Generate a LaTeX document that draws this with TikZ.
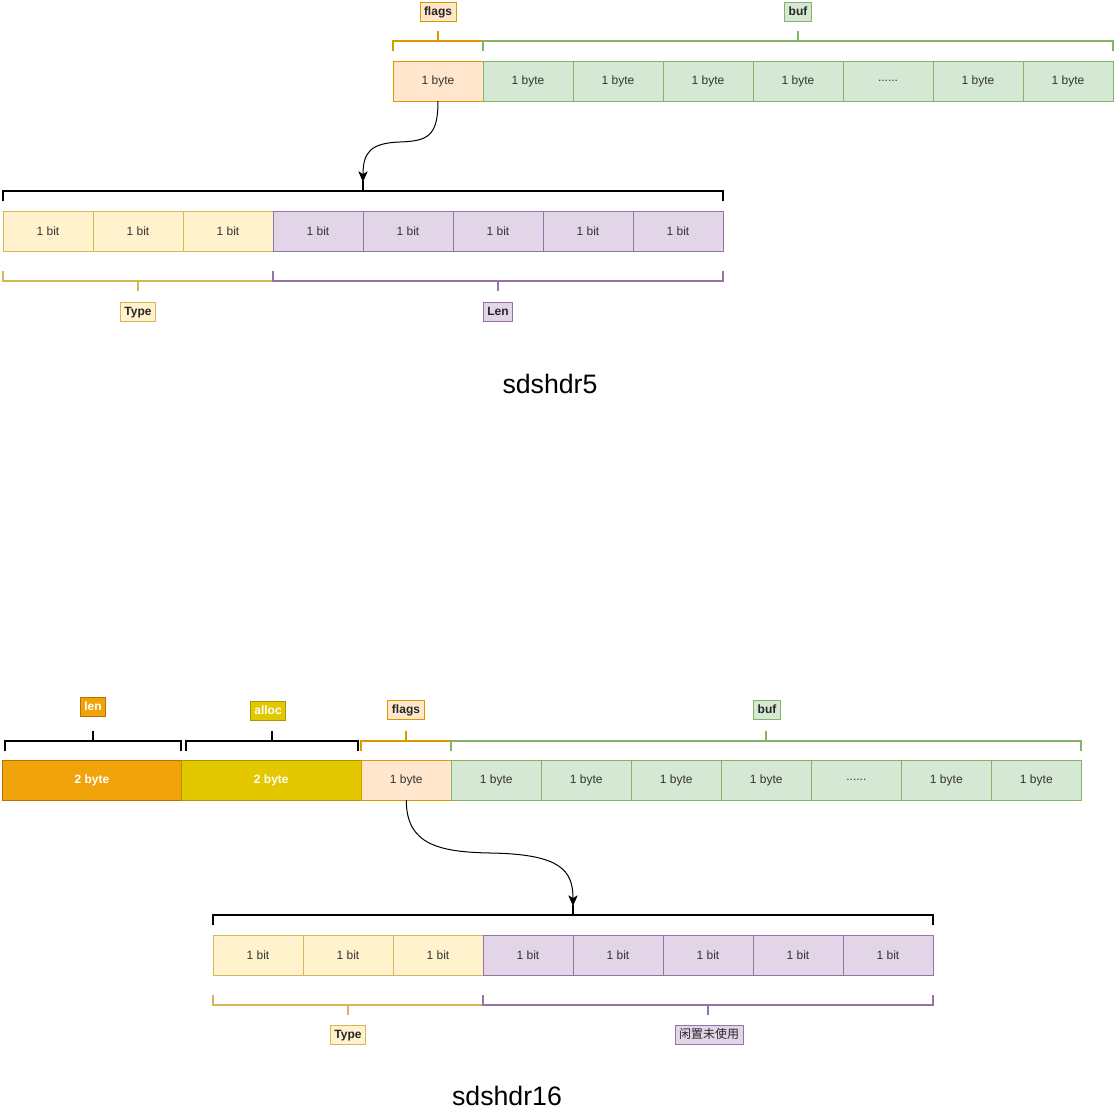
\documentclass[tikz,border=0pt]{standalone}
\usepackage{fontspec}
\setmainfont{Liberation Sans}
\newfontfamily\cjk{Noto Sans CJK SC}
\usetikzlibrary{positioning,arrows.meta}

\definecolor{flagfill}{HTML}{FFE6CC}
\definecolor{flagline}{HTML}{D79B00}
\definecolor{buffill}{HTML}{D5E8D4}
\definecolor{bufline}{HTML}{82B366}
\definecolor{typefill}{HTML}{FFF2CC}
\definecolor{typeline}{HTML}{D6B656}
\definecolor{lenfill}{HTML}{E1D5E7}
\definecolor{lenline}{HTML}{9673A6}
\definecolor{hlenfill}{HTML}{F0A30A}
\definecolor{hlenline}{HTML}{BD7000}
\definecolor{allocfill}{HTML}{E3C800}
\definecolor{allocline}{HTML}{B09500}
\definecolor{celltext}{HTML}{333333}

\tikzset{
  cell/.style={draw, line width=0.75pt, minimum width=67.5pt, minimum height=30pt,
    inner sep=0pt, outer sep=0pt, font=\fontsize{9}{11}\selectfont, text=celltext},
  flagcell/.style={cell, fill=flagfill, draw=flagline},
  bufcell/.style={cell, fill=buffill, draw=bufline},
  typecell/.style={cell, fill=typefill, draw=typeline},
  lencell/.style={cell, fill=lenfill, draw=lenline},
  widecell/.style={cell, minimum width=134pt, text=white, font=\bfseries\fontsize{9}{11}\selectfont},
  tag/.style={draw, line width=0.75pt, inner xsep=3pt, inner ysep=2.5pt,
    text height=7pt, text depth=2pt,
    font=\bfseries\fontsize{9}{11}\selectfont, text=black!85},
  brace/.style={line width=1.5pt},
  title/.style={font=\fontsize{20}{24}\selectfont},
  link/.style={line width=0.75pt, -{Stealth[length=8pt,width=7pt,inset=2pt]}}
}

% the "......" cell
\newcommand{\skipdots}{......}

% bracket: colour, x1, x2, y, length of the ends
\newcommand{\capline}[5]{%
  \draw[brace, #1] (#2,#4+#5) -- (#2,#4) -- (#3,#4) -- (#3,#4+#5);
  \draw[brace, #1] ({(#2+#3)/2},#4) -- ({(#2+#3)/2},#4-#5);
}

\begin{document}
\begin{tikzpicture}[x=0.75pt, y=-0.75pt]

	\useasboundingbox (0,0) rectangle (1116,1118);

	% ---------- sdshdr5 ----------
	% bytes
	\node[flagcell] (a0) at (438,81) {1 byte};
	\foreach \t [count=\i, remember=\i as \p (initially 0)] in
		{1 byte,1 byte,1 byte,1 byte,\skipdots,1 byte,1 byte}
		\node[bufcell, right=0pt of a\p] (a\i) {\t};

	% brackets over the bytes
	\capline{flagline}{393}{483}{41}{10}
	\capline{bufline}{483}{1113}{41}{10}
	\node[tag, fill=flagfill, draw=flagline] (flags5) at (438,12) {flags};
	\node[tag, fill=buffill, draw=bufline] (buf5) at (798,12) {buf};

	% bits of the flags byte
	\node[typecell] (b0) at (48,231) {1 bit};
	\foreach \i [remember=\i as \p (initially 0)] in {1,2}
		\node[typecell, right=0pt of b\p] (b\i) {1 bit};
	\foreach \i [remember=\i as \p (initially 2)] in {3,...,7}
		\node[lencell, right=0pt of b\p] (b\i) {1 bit};

	\capline{black}{3}{723}{191}{10}
	\coordinate (in5) at (363,182);
	\draw[link] (a0.south) .. controls (438,136) and (428,141) .. (400,142)
		.. controls (371,143) and (363,152) .. (in5);

	\capline{typeline}{3}{273}{281}{-10}
	\capline{lenline}{273}{723}{281}{-10}
	\node[tag, fill=typefill, draw=typeline] (type5) at (138,312) {Type};
	\node[tag, fill=lenfill, draw=lenline] (len5) at (498,312) {Len};

	\node[title] (name5) at (550,384) {sdshdr5};

	% ---------- sdshdr16 ----------
	% header and bytes
	\node[widecell, fill=hlenfill, draw=hlenline] (c0) at (92,780) {2 byte};
	\node[widecell, fill=allocfill, draw=allocline, minimum width=135pt, right=0pt of c0] (c1) {2 byte};
	\node[flagcell, right=0pt of c1] (c2) {1 byte};
	\foreach \t [count=\i from 3, remember=\i as \p (initially 2)] in
		{1 byte,1 byte,1 byte,1 byte,\skipdots,1 byte,1 byte}
		\node[bufcell, right=0pt of c\p] (c\i) {\t};

	% brackets over the fields
	\capline{black}{5}{181}{741}{10}
	\capline{black}{186}{358}{741}{10}
	\capline{flagline}{361}{451}{741}{10}
	\capline{bufline}{451}{1081}{741}{10}
	\node[tag, fill=hlenfill, draw=hlenline, text=white] (len16) at (93,707) {len};
	\node[tag, fill=allocfill, draw=allocline, text=white] (alloc16) at (268,711) {alloc};
	\node[tag, fill=flagfill, draw=flagline] (flags16) at (406,710) {flags};
	\node[tag, fill=buffill, draw=bufline] (buf16) at (767,710) {buf};

	% bits of the flags byte
	\node[typecell] (d0) at (258,955) {1 bit};
	\foreach \i [remember=\i as \p (initially 0)] in {1,2}
		\node[typecell, right=0pt of d\p] (d\i) {1 bit};
	\foreach \i [remember=\i as \p (initially 2)] in {3,...,7}
		\node[lencell, right=0pt of d\p] (d\i) {1 bit};

	\capline{black}{213}{933}{915}{10}
	\coordinate (in16) at (573,906);
	\draw[link] (c2.south) .. controls (406,845) and (440,852) .. (490,853)
		.. controls (560,854) and (573,870) .. (in16);

	\capline{typeline}{213}{483}{1005}{-10}
	\capline{lenline}{483}{933}{1005}{-10}
	\node[tag, fill=typefill, draw=typeline] (type16) at (348,1035) {Type};
	\node[tag, fill=lenfill, draw=lenline, font=\cjk\fontsize{9}{11}\selectfont] (free16) at (709,1035) {闲置未使用};

	\node[title] (name16) at (507,1096) {sdshdr16};

\end{tikzpicture}
\end{document}
